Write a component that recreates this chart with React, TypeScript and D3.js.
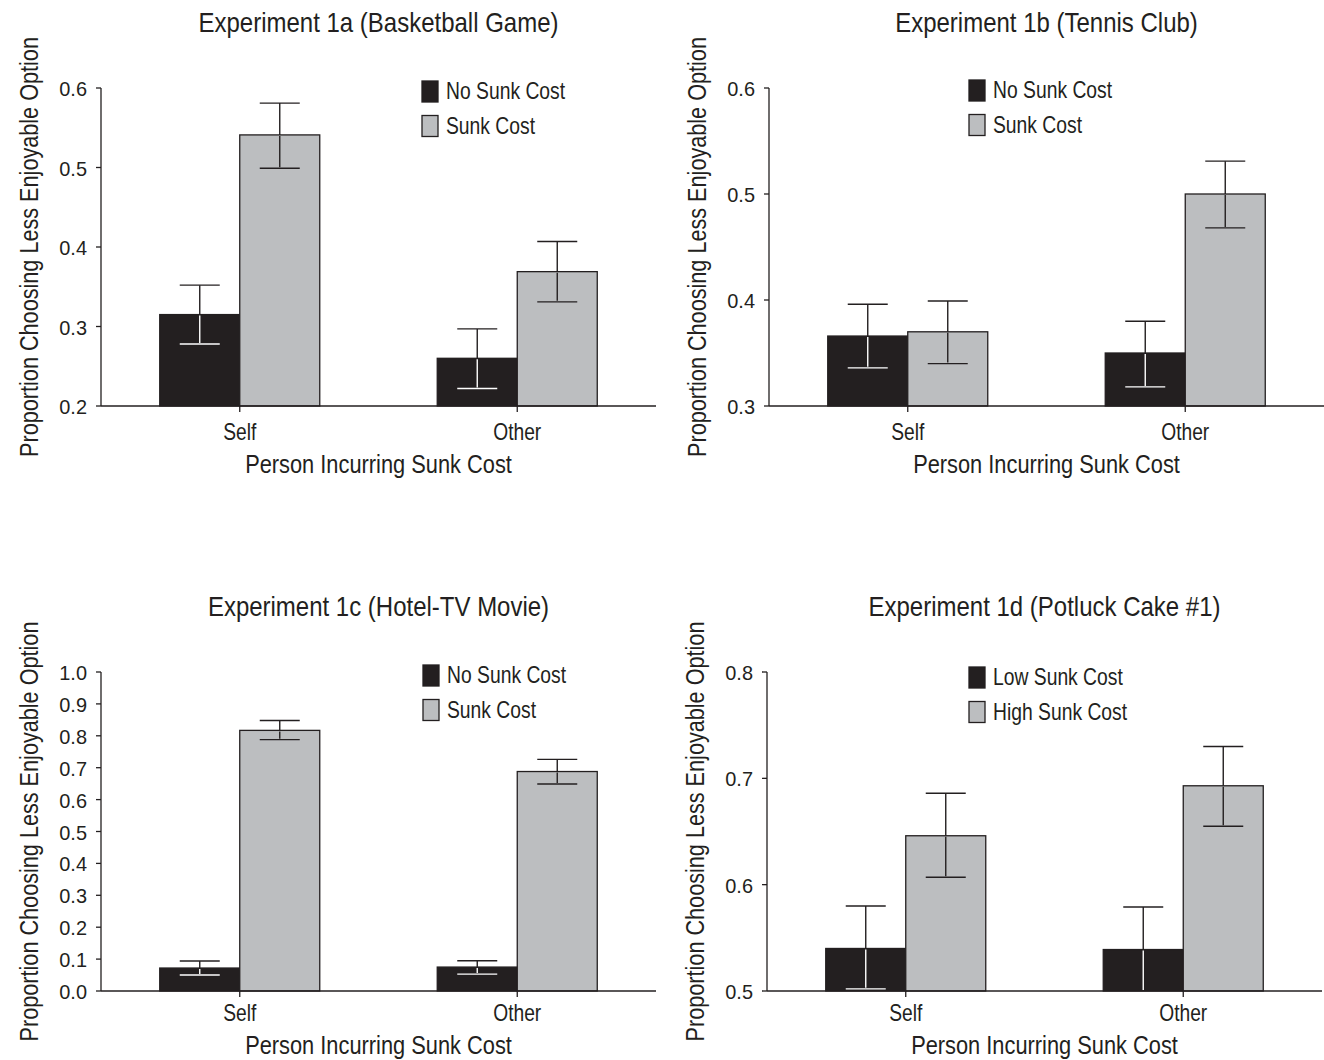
import React from "react";
import * as d3 from "d3";

// ---- data ----
const categories = ["Self", "Other"];

const titles = [
  "Experiment 1a (Basketball Game)",
  "Experiment 1b (Tennis Club)",
  "Experiment 1c (Hotel-TV Movie)",
  "Experiment 1d (Potluck Cake #1)"
];

const legendAB = ["No Sunk Cost", "Sunk Cost"];
const legendD = ["Low Sunk Cost", "High Sunk Cost"];

// Experiment 1a
const exp1aLow = [0.315, 0.26];
const exp1aHigh = [0.541, 0.369];
const exp1aLowErr = [[0.278, 0.352], [0.222, 0.297]];
const exp1aHighErr = [[0.499, 0.581], [0.331, 0.407]];
const ticks1a = [0.2, 0.3, 0.4, 0.5, 0.6];

// Experiment 1b
const exp1bLow = [0.366, 0.35];
const exp1bHigh = [0.37, 0.5];
const exp1bLowErr = [[0.336, 0.396], [0.318, 0.38]];
const exp1bHighErr = [[0.34, 0.399], [0.468, 0.531]];
const ticks1b = [0.3, 0.4, 0.5, 0.6];

// Experiment 1c
const exp1cLow = [0.072, 0.075];
const exp1cHigh = [0.817, 0.688];
const exp1cLowErr = [[0.05, 0.094], [0.053, 0.095]];
const exp1cHighErr = [[0.788, 0.848], [0.649, 0.726]];
const ticks1c = [0, 0.1, 0.2, 0.3, 0.4, 0.5, 0.6, 0.7, 0.8, 0.9, 1.0];

// Experiment 1d
const exp1dLow = [0.54, 0.539];
const exp1dHigh = [0.646, 0.693];
const exp1dLowErr = [[0.502, 0.58], [0.499, 0.579]];
const exp1dHighErr = [[0.607, 0.686], [0.655, 0.73]];
const ticks1d = [0.5, 0.6, 0.7, 0.8];

const INK = "#231f20";
const DARK = "#231f20";
const GREY = "#bcbec0";
const FONT = "'Liberation Sans', Arial, sans-serif";

// condensed text: regular face squeezed horizontally
const T = ({ x, y, size, sx = 0.86, anchor = "start", rotate = 0, children }) => (
  <text
    transform={`translate(${x},${y})${rotate ? ` rotate(${rotate})` : ""} scale(${sx},1)`}
    textAnchor={anchor}
    fontSize={size}
  >
    {children}
  </text>
);

const Panel = ({ left, top, right, bottom, title, legend, legendX, legendY, catDy, labDy,
  low, high, lowErr, highErr, ticks }) => {
  const y = d3.scaleLinear().domain([ticks[0], ticks[ticks.length - 1]]).range([bottom, top]);
  const x0 = d3.scaleBand().domain(categories).range([left, right]).paddingInner(0.4234).paddingOuter(0.2117);
  const x1 = d3.scaleBand().domain(["low", "high"]).range([0, x0.bandwidth()]);
  const fmt = d3.format(".1f");
  const cap = 20;
  const cx = (left + right) / 2;
  const [dMin] = y.domain();

  const series = [
    { key: "low", vals: low, errs: lowErr, fill: DARK, inner: "#ffffff" },
    { key: "high", vals: high, errs: highErr, fill: GREY, inner: INK }
  ];

  return (
    <g fontFamily={FONT} fill={INK}>
      <T x={cx} y={top - 56} size={28} sx={0.857} anchor="middle">{title}</T>
      <T x={left - 63} y={(top + bottom) / 2} size={25} sx={0.866} anchor="middle" rotate={-90}>
        Proportion Choosing Less Enjoyable Option
      </T>
      <T x={cx} y={bottom + labDy} size={25} sx={0.873} anchor="middle">Person Incurring Sunk Cost</T>

      {series.map(s =>
        categories.map((c, i) => {
          const bx = x0(c) + x1(s.key);
          const bw = x1.bandwidth();
          const mx = bx + bw / 2;
          const v = s.vals[i];
          const [lo, hi] = s.errs[i];
          const loC = Math.max(lo, dMin);
          return (
            <g key={s.key + c}>
              <rect x={bx} y={y(v)} width={bw} height={bottom - y(v)} fill={s.fill} stroke={INK} strokeWidth={1.3} />
              <line x1={mx} x2={mx} y1={y(v)} y2={y(hi)} stroke={INK} strokeWidth={1.4} />
              <line x1={mx - cap} x2={mx + cap} y1={y(hi)} y2={y(hi)} stroke={INK} strokeWidth={1.4} />
              <line x1={mx} x2={mx} y1={y(v) + 1} y2={y(loC) - 1} stroke={s.inner} strokeWidth={1.4} />
              {lo >= dMin && (
                <line x1={mx - cap} x2={mx + cap} y1={y(lo)} y2={y(lo)} stroke={s.inner} strokeWidth={1.4} />
              )}
            </g>
          );
        })
      )}

      {/* y axis */}
      <line x1={left} x2={left} y1={top} y2={bottom} stroke={INK} strokeWidth={1.3} />
      {ticks.map(t => (
        <g key={t}>
          <line x1={left - 5} x2={left} y1={y(t)} y2={y(t)} stroke={INK} strokeWidth={1.3} />
          <T x={left - 14} y={y(t) + 8} size={21} sx={0.95} anchor="end">{fmt(t)}</T>
        </g>
      ))}

      {/* x axis */}
      <line x1={left} x2={right} y1={bottom} y2={bottom} stroke={INK} strokeWidth={1.3} />
      {categories.map(c => {
        const m = x0(c) + x0.bandwidth() / 2;
        return (
          <g key={c}>
            <line x1={m} x2={m} y1={bottom} y2={bottom + 6} stroke={INK} strokeWidth={1.3} />
            <T x={m} y={bottom + catDy} size={24} sx={0.8} anchor="middle">{c}</T>
          </g>
        );
      })}

      {/* legend */}
      {legend.map((l, i) => {
        const ly = legendY + i * 34.5;
        return (
          <g key={l}>
            <rect x={legendX} y={ly} width={16} height={21} fill={i === 0 ? DARK : GREY} stroke={INK} strokeWidth={1.3} />
            <T x={legendX + 24} y={ly + 18} size={23} sx={0.84}>{l}</T>
          </g>
        );
      })}
    </g>
  );
};

const App = () => (
  <svg width={1324} height={1060} style={{ position: "absolute", left: 0, top: 0, background: "#fff" }}>
    <rect width={1324} height={1060} fill="#fff" />
    <Panel left={101} right={656} top={88} bottom={406} title={titles[0]} legend={legendAB}
      legendX={422} legendY={81} catDy={34} labDy={67}
      low={exp1aLow} high={exp1aHigh} lowErr={exp1aLowErr} highErr={exp1aHighErr} ticks={ticks1a} />
    <Panel left={769} right={1324} top={88} bottom={406} title={titles[1]} legend={legendAB}
      legendX={969} legendY={80} catDy={34} labDy={67}
      low={exp1bLow} high={exp1bHigh} lowErr={exp1bLowErr} highErr={exp1bHighErr} ticks={ticks1b} />
    <Panel left={101} right={656} top={672} bottom={991} title={titles[2]} legend={legendAB}
      legendX={423} legendY={665} catDy={30} labDy={63}
      low={exp1cLow} high={exp1cHigh} lowErr={exp1cLowErr} highErr={exp1cHighErr} ticks={ticks1c} />
    <Panel left={767} right={1322} top={672} bottom={991} title={titles[3]} legend={legendD}
      legendX={969} legendY={667} catDy={30} labDy={63}
      low={exp1dLow} high={exp1dHigh} lowErr={exp1dLowErr} highErr={exp1dHighErr} ticks={ticks1d} />
  </svg>
);

export default App;
